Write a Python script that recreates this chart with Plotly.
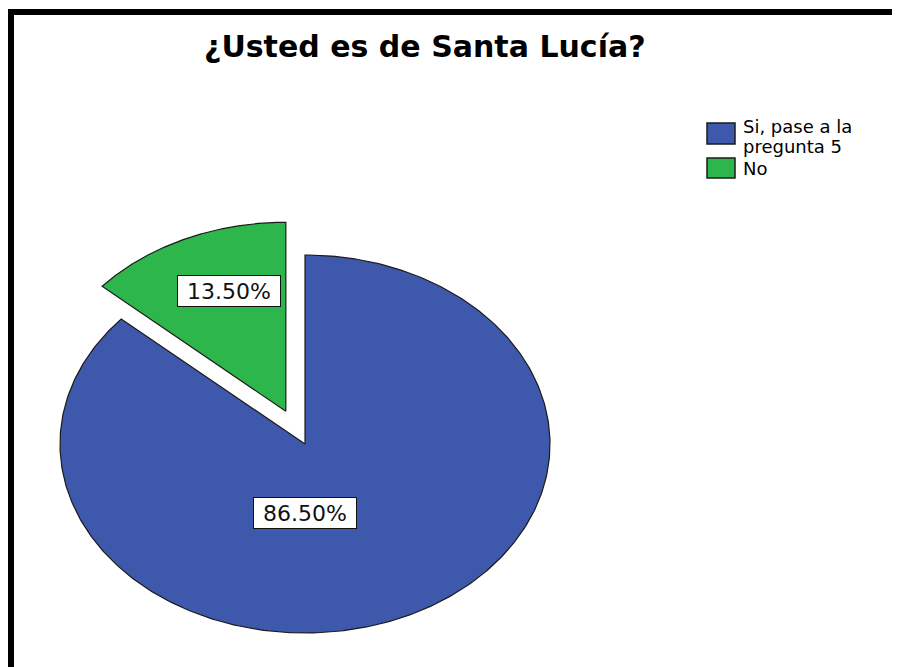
import numpy as np
import plotly.graph_objects as go

# ---- data ----
title_text = "¿Usted es de Santa Lucía?"
categories = ["Si, pase a la pregunta 5", "No"]
legend_lines = [["Si, pase a la", "pregunta 5"], ["No"]]
percentages = [86.5, 13.5]

# ---- style / layout ----
colors = ["#3E58AB", "#2DB64B"]
W, H = 900, 667            # browser window
OFF = 8                    # page body margin
CX, CY = 305, 444          # pie centre (window px)
RX, RY = 245, 189          # elliptical radii (px)
PULL = [0.0, 0.19]         # explode fraction
LABEL_R = [0.365, 0.68]
LABEL_ANG = [180.0, 340.0]  # degrees clockwise from 12 o'clock
OUTLINE = "#1b1b1b"
FONT = "DejaVu Sans"

fig = go.Figure()

total = sum(percentages)
start = 0.0
label_ann = []
for i, (cat, p) in enumerate(zip(categories, percentages)):
    span = p / total * 2 * np.pi
    a0, a1 = start, start + span
    start = a1
    mid = (a0 + a1) / 2
    ox = PULL[i] * RX * np.sin(mid)
    oy = -PULL[i] * RY * np.cos(mid)
    ax_, ay_ = CX + ox, CY + oy
    t = np.linspace(a0, a1, 400)
    xs = np.concatenate([[ax_], ax_ + RX * np.sin(t), [ax_]])
    ys = np.concatenate([[ay_], ay_ - RY * np.cos(t), [ay_]])
    fig.add_trace(go.Scatter(
        x=xs, y=ys, mode="lines", fill="toself",
        fillcolor=colors[i], line=dict(color=OUTLINE, width=1.2),
        name=cat, hoverinfo="name", showlegend=False,
    ))
    la = np.deg2rad(LABEL_ANG[i])
    lx = ax_ + LABEL_R[i] * RX * np.sin(la)
    ly = ay_ - LABEL_R[i] * RY * np.cos(la)
    label_ann.append(dict(
        x=lx, y=ly, xref="x", yref="y", showarrow=False,
        text=f"{p:.2f}%", font=dict(family=FONT, size=22, color="#111"),
        bgcolor="white", bordercolor="#111", borderwidth=1, borderpad=1,
        width=100, height=28, xanchor="center", yanchor="middle",
    ))

annotations = list(label_ann)

# title
annotations.append(dict(
    x=425, y=46, xref="x", yref="y", showarrow=False,
    text=f"<b>{title_text}</b>",
    font=dict(family=FONT, size=30, color="#000"),
    xanchor="center", yanchor="middle",
))

# legend (manual)
shapes = []
LEG_X0, LEG_X1 = 707, 735
leg_rows = [(123, 144), (158, 178)]
for i, lines in enumerate(legend_lines):
    y0, y1 = leg_rows[i]
    shapes.append(dict(type="rect", xref="x", yref="y", x0=LEG_X0, x1=LEG_X1,
                       y0=y0, y1=y1, fillcolor=colors[i],
                       line=dict(color=OUTLINE, width=1.5)))
line_centers = [[126, 146], [168]]
for i, lines in enumerate(legend_lines):
    for j, ln in enumerate(lines):
        annotations.append(dict(
            x=741, y=line_centers[i][j], xref="x", yref="y", showarrow=False,
            text=ln, font=dict(family=FONT, size=18, color="#000"),
            xanchor="left", yanchor="middle",
        ))

# frame (top and left black borders)
shapes.append(dict(type="rect", xref="x", yref="y", x0=8, x1=W + 5, y0=9, y1=15,
                   fillcolor="black", line=dict(width=0)))
shapes.append(dict(type="rect", xref="x", yref="y", x0=8, x1=14, y0=9, y1=H + 5,
                   fillcolor="black", line=dict(width=0)))

fig.update_layout(
    width=W - OFF, height=H - OFF,
    margin=dict(l=0, r=0, t=0, b=0),
    paper_bgcolor="white", plot_bgcolor="white",
    showlegend=False,
    xaxis=dict(range=[OFF, W], visible=False, fixedrange=True),
    yaxis=dict(range=[H, OFF], visible=False, fixedrange=True),
    annotations=annotations,
    shapes=shapes,
)

fig.write_html("out.html")
